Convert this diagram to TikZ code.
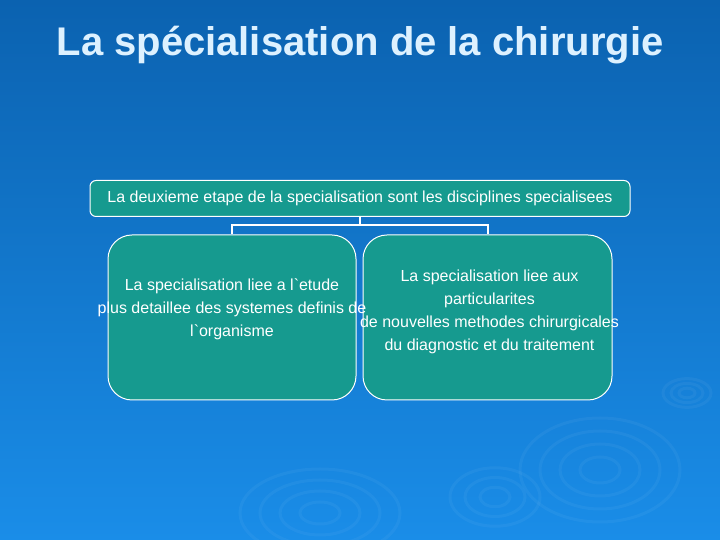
\documentclass[tikz,border=0pt]{standalone}
\usepackage{fontspec}
\setmainfont{Liberation Sans}
\usepackage{tikz}

\definecolor{bgTop}{HTML}{0B62B0}
\definecolor{bgBottom}{HTML}{1A8DE8}
\definecolor{boxTeal}{HTML}{169A8F}
\definecolor{titleBlue}{HTML}{DDF1FF}

\tikzset{
	box/.style={draw=white, line width=1pt, fill=boxTeal, rounded corners=#1, inner sep=0pt},
	boxtext/.style={text=white, align=center, font=\fontsize{16}{23}\selectfont},
	link/.style={draw=white, line width=2pt},
	ripple/.style={draw=white, draw opacity=0.045, line width=3pt}
}

\begin{document}
\begin{tikzpicture}[x=1pt, y=1pt]
	
	% background
	\shade[top color=bgTop, bottom color=bgBottom] (0,0) rectangle (720,540);
	\useasboundingbox (0,0) rectangle (720,540);
	
	% ripples
	\foreach \r in {20,40,60,80} \draw[ripple] (600,70) ellipse ({\r} and {0.65*\r});
	\foreach \r in {15,30,45} \draw[ripple] (495,43) ellipse ({\r} and {0.65*\r});
	\foreach \r in {8,16,24} \draw[ripple] (687,147) ellipse ({\r} and {0.6*\r});
	\foreach \r in {20,40,60,80} \draw[ripple] (320,27) ellipse ({\r} and {0.55*\r});
	
	% title
	\node[text=titleBlue, font=\fontsize{40}{44}\bfseries\selectfont] (title) at (360,495) {La spécialisation de la chirurgie};
	
	% boxes
	\node[box=6pt, minimum width=540pt, minimum height=36pt] (topBox) at (360,341.5) {};
	\node[box=24pt, minimum width=248pt, minimum height=165pt] (leftBox) at (232,222.5) {};
	\node[box=24pt, minimum width=249pt, minimum height=165pt] (rightBox) at (487.5,222.5) {};
	
	% texts
	\node[boxtext] (topText) at (topBox.center) {La deuxieme etape de la specialisation sont les disciplines specialisees};
	\node[boxtext] (leftText) at ([yshift=8.5pt]leftBox.center) {La specialisation liee a l\textasciigrave etude\\plus detaillee des systemes definis de\\l\textasciigrave organisme};
	\node[boxtext] (rightText) at ([xshift=2pt, yshift=5.5pt]rightBox.center) {La specialisation liee aux\\particularites\\de nouvelles methodes chirurgicales\\du diagnostic et du traitement};
	
	% connectors
	\path[link] (topBox.south) -- ++(0,-8) -| (leftBox.north);
	\path[link] (topBox.south) -- ++(0,-8) -| (rightBox.north);
	
\end{tikzpicture}
\end{document}
